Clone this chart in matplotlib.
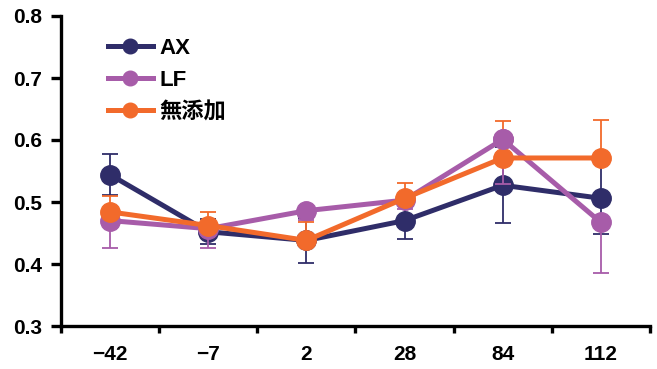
import matplotlib
matplotlib.use("Agg")
import matplotlib.pyplot as plt
import numpy as np

plt.rcParams['font.family'] = ['Liberation Sans', 'Noto Sans CJK JP', 'DejaVu Sans']

days = ["\u221242", "\u22127", "2", "28", "84", "112"]

ax_mean = [0.544, 0.452, 0.438, 0.470, 0.527, 0.506]
ax_err = [0.033, 0.020, 0.036, 0.030, 0.061, 0.058]

lf_mean = [0.470, 0.457, 0.486, 0.503, 0.601, 0.467]
lf_err = [0.044, 0.031, 0.015, 0.015, 0.072, 0.082]

ctrl_mean = [0.484, 0.462, 0.438, 0.506, 0.571, 0.571]
ctrl_err = [0.026, 0.022, 0.030, 0.025, 0.060, 0.061]

names = ["AX", "LF", "無添加"]
colors = ["#2F2D69", "#A75CA9", "#F26A2B"]

fig = plt.figure(figsize=(6.57, 3.69), dpi=100)
ax = fig.add_axes([61 / 657, 43 / 369, 589 / 657, 310 / 369])

x = np.arange(len(days))
# AX: both directions, LF: minus only, control: plus only
series = [(ax_mean, ax_err, "both"), (lf_mean, lf_err, "minus"), (ctrl_mean, ctrl_err, "plus")]
for i, ((m, e, side), name, c) in enumerate(zip(series, names, colors)):
    m = np.array(m)
    e = np.array(e)
    zero = np.zeros_like(e)
    yerr = {"both": [e, e], "minus": [e, zero], "plus": [zero, e]}[side]
    ax.errorbar(x, m, yerr=yerr, fmt="none", ecolor=c, elinewidth=1.3,
                capsize=6, capthick=1.3, zorder=2 + 2 * i)
    ax.plot(x, m, color=c, lw=3.6, marker="o", markersize=14,
            label=name, zorder=3 + 2 * i)

# LF peak marker sits above the control marker at day 84
ax.plot(x[4], lf_mean[4], marker="o", markersize=14, color=colors[1], zorder=9)

ax.set_xlim(-0.5, len(days) - 0.5)
ax.set_ylim(0.3, 0.8)
yt = np.arange(0.3, 0.81, 0.1)
ax.set_yticks(yt)
ax.set_yticklabels([f"{v:.1f}" for v in yt])
ax.set_xticks(x)
ax.set_xticklabels(days)
ax.set_xticks(np.arange(-0.5, len(days)), minor=True)
ax.tick_params(axis="x", which="major", length=0, pad=14)
ax.tick_params(axis="x", which="minor", length=5, width=2.4, direction="out")
ax.tick_params(axis="y", length=7, width=2.4, direction="out", pad=6.5)
for lab in ax.get_xticklabels() + ax.get_yticklabels():
    lab.set_fontsize(15)
    lab.set_fontweight("bold")

for s in ["top", "right"]:
    ax.spines[s].set_visible(False)
for s in ["left", "bottom"]:
    ax.spines[s].set_linewidth(2.4)

leg = ax.legend(loc="upper left", bbox_to_anchor=(0.08, 0.93), frameon=False,
                borderpad=0, borderaxespad=0,
                handlelength=2.0, markerscale=0.75, labelspacing=0.5,
                handletextpad=0.3, prop={"weight": "bold", "size": 16})

fig.savefig("out.png", dpi=100)
